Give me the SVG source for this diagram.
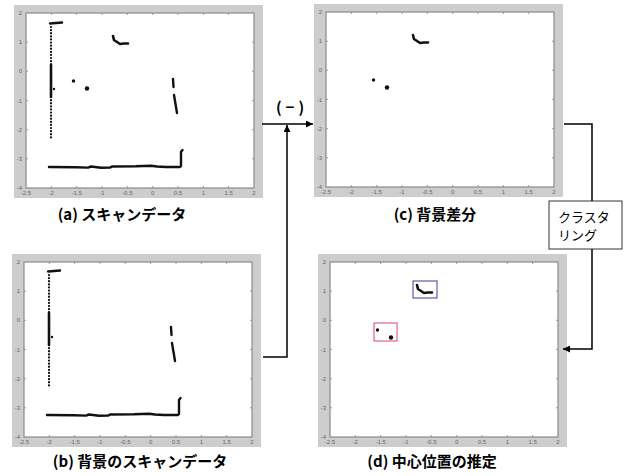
<svg xmlns="http://www.w3.org/2000/svg" xmlns:xlink="http://www.w3.org/1999/xlink" width="630" height="476" viewBox="0 0 630 476">
<style>
.tl{font-family:"Liberation Sans",Arial,sans-serif;font-size:6px;fill:#666}
.cap{font-family:"Noto Sans CJK JP","Liberation Sans",sans-serif;font-size:15px;font-weight:bold;fill:#000}
.box{font-family:"Noto Sans CJK JP","Liberation Sans",sans-serif;font-size:13px;fill:#000}
.conn{fill:none;stroke:#000;stroke-width:1.5}
.d{fill:none;stroke:#111;stroke-linecap:round;stroke-linejoin:round}
</style>
<defs>
<marker id="ah" viewBox="0 0 10 10" refX="10" refY="5" markerWidth="7" markerHeight="7" markerUnits="userSpaceOnUse" orient="auto">
<path d="M0,0 L10,5 L0,10 z" fill="#000"/>
</marker>
<g id="axes">
<rect x="-12" y="-8" width="249" height="193" fill="#cdcdcd"/>
<rect x="0" y="0" width="228" height="175" fill="#fff" stroke="#8a8a8a" stroke-width="1.2"/>
<path d="M25.3,0v2M50.7,0v2M76,0v2M101.3,0v2M126.7,0v2M152,0v2M177.3,0v2M202.7,0v2M25.3,175v-2M50.7,175v-2M76,175v-2M101.3,175v-2M126.7,175v-2M152,175v-2M177.3,175v-2M202.7,175v-2M0,29.2h2M0,58.3h2M0,87.5h2M0,116.7h2M0,145.8h2M228,29.2h-2M228,58.3h-2M228,87.5h-2M228,116.7h-2M228,145.8h-2" stroke="#888" stroke-width="0.8"/>
<g class="tl" text-anchor="middle">
<text x="0" y="182">-2.5</text><text x="25.3" y="182">-2</text><text x="50.7" y="182">-1.5</text><text x="76" y="182">-1</text><text x="101.3" y="182">-0.5</text><text x="126.7" y="182">0</text><text x="152" y="182">0.5</text><text x="177.3" y="182">1</text><text x="202.7" y="182">1.5</text><text x="228" y="182">2</text>
</g>
<g class="tl" text-anchor="end">
<text x="-4" y="2">2</text><text x="-4" y="31">1</text><text x="-4" y="60">0</text><text x="-4" y="89.5">-1</text><text x="-4" y="118.7">-2</text><text x="-4" y="147.8">-3</text><text x="-4" y="177">-4</text>
</g>
</g>
<g id="walls">
<path class="d" d="M24,10.5 L36,9.5" stroke-width="2.4"/>
<path class="d" d="M25,14 V52" stroke-width="2.2" stroke-dasharray="0.1 3"/>
<path class="d" d="M25,52 V84" stroke-width="2.6"/>
<path class="d" d="M25,84 V125" stroke-width="2.2" stroke-dasharray="0.1 3"/>
<circle cx="28" cy="76" r="1.2" fill="#111"/>
<path class="d" d="M147,66 L147.5,74 M148,82 L151,100" stroke-width="2.4"/>
<path class="d" d="M23,154 L50,154.3 L62,154.6 L65,153.5 L75,154.8 L84,154.6 L86,153.5 L110,153.3 L125,152.8 L131,153.5 L140,154 L154,154 L155,153 L155,139 L156.5,137" stroke-width="2.4"/>
</g>
<g id="objs">
<path class="d" d="M87,23 L88,27 L91,29 L94,31 L98,30.5 L102,30.5" stroke-width="2.6"/>
<circle cx="47.5" cy="68" r="1.7" fill="#111"/>
<circle cx="61" cy="75.5" r="2.2" fill="#111"/>
</g>
</defs>
<g id="plot-a">
<use xlink:href="#axes" href="#axes" transform="translate(26,13)"/>
<use xlink:href="#walls" href="#walls" transform="translate(26,13)"/>
<use xlink:href="#objs" href="#objs" transform="translate(26,13)"/>
<text class="cap" x="122" y="220" text-anchor="middle">(a) スキャンデータ</text>
</g>
<g id="plot-b">
<use xlink:href="#axes" href="#axes" transform="translate(24,262)"/>
<use xlink:href="#walls" href="#walls" transform="translate(24,261)"/>
<text class="cap" x="140" y="467" text-anchor="middle">(b) 背景のスキャンデータ</text>
</g>
<g id="plot-c">
<use xlink:href="#axes" href="#axes" transform="translate(326,12)"/>
<use xlink:href="#objs" href="#objs" transform="translate(326,12)"/>
<text class="cap" x="435" y="220" text-anchor="middle">(c) 背景差分</text>
</g>
<g id="plot-d">
<use xlink:href="#axes" href="#axes" transform="translate(330,262)"/>
<use xlink:href="#objs" href="#objs" transform="translate(330,262)"/>
<rect x="413" y="281" width="24" height="17" fill="none" stroke="#3a3aa0" stroke-width="1"/>
<rect x="374" y="323" width="23" height="18" fill="none" stroke="#e0407a" stroke-width="1"/>
<text class="cap" x="432" y="467" text-anchor="middle">(d) 中心位置の推定</text>
</g>
<g id="clustering">
<rect x="549" y="201" width="73" height="48" fill="#fff" stroke="#333" stroke-width="1"/>
<text class="box" x="558" y="222">クラスタ</text>
<text class="box" x="558" y="240">リング</text>
</g>
<g id="connectors">
<path class="conn" d="M262,124 H313" marker-end="url(#ah)"/>
<path class="conn" d="M263,357 H287 V125" marker-end="url(#ah)"/>
<text class="cap" x="292" y="113" text-anchor="middle" font-weight="normal" letter-spacing="4">(−)</text>
<path class="conn" d="M564,124 H592 V201"/>
<path class="conn" d="M592,249 V349 H563" marker-end="url(#ah)"/>
</g>
</svg>
